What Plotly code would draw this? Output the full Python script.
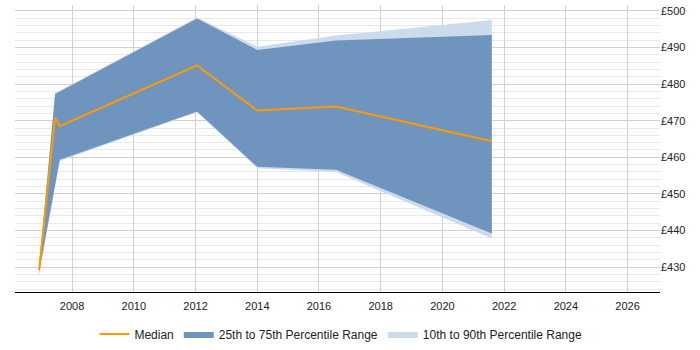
import plotly.graph_objects as go

years = [2006.93, 2007.45, 2007.6, 2012.05, 2014.0, 2016.55, 2021.6]
p10 = [427.6, 452.0, 459.0, 472.3, 457.0, 456.0, 437.8]
p25 = [428.6, 452.4, 459.3, 472.5, 457.4, 456.6, 439.2]
median = [429.2, 470.8, 468.5, 485.1, 472.8, 473.9, 464.4]
p75 = [430.0, 477.3, 478.0, 497.9, 489.3, 491.9, 493.4]
p90 = [430.4, 477.6, 478.2, 498.2, 490.2, 493.3, 497.5]

y_ticks = [430, 440, 450, 460, 470, 480, 490, 500]
y_labels = ["£" + str(v) for v in y_ticks]
x_ticks = list(range(2008, 2027, 2))

light = "#cbdbec"
dark = "#6f95be"
orange = "#ff9900"

fig = go.Figure()
fig.add_trace(go.Scatter(x=years, y=p10, mode="lines", line=dict(width=0, color=light),
                         showlegend=False, hoverinfo="skip"))
fig.add_trace(go.Scatter(x=years, y=p90, mode="lines", line=dict(width=0, color=light),
                         fill="tonexty", fillcolor=light, name="10th to 90th Percentile Range",
                         legendrank=3))
fig.add_trace(go.Scatter(x=years, y=p25, mode="lines", line=dict(width=0, color=dark),
                         showlegend=False, hoverinfo="skip"))
fig.add_trace(go.Scatter(x=years, y=p75, mode="lines", line=dict(width=0, color=dark),
                         fill="tonexty", fillcolor=dark, name="25th to 75th Percentile Range",
                         legendrank=2))
fig.add_trace(go.Scatter(x=years, y=median, mode="lines", line=dict(width=2, color=orange),
                         name="Median", legendrank=1))

fig.update_layout(
    width=700, height=350,
    margin=dict(l=15, r=40, t=5, b=58, autoexpand=False),
    paper_bgcolor="white", plot_bgcolor="white",
    font=dict(family="Liberation Sans, Arial, sans-serif", size=11, color="#222"),
    legend=dict(orientation="h", x=0.487, xanchor="center", xref="container",
                y=0.046, yanchor="middle", yref="container",
                font=dict(size=12), traceorder="normal", itemwidth=30),
    xaxis=dict(range=[2006.15, 2027.05], tickvals=x_ticks, ticktext=[str(v) for v in x_ticks],
               showgrid=True, gridcolor="#d0d0d0", gridwidth=1,
               showline=True, linecolor="black", linewidth=1, zeroline=False,
               ticks="", ticklen=0, ticklabelstandoff=4, automargin=False),
    yaxis=dict(range=[423.2, 501.6], side="right", tickvals=y_ticks, ticktext=y_labels,
               showgrid=True, gridcolor="#d0d0d0", gridwidth=1, zeroline=False,
               showline=False, ticks="", automargin=False,
               minor=dict(dtick=2, tick0=430, showgrid=True, gridcolor="#e8e8e8", gridwidth=1)),
)

fig.write_html("out.html")
